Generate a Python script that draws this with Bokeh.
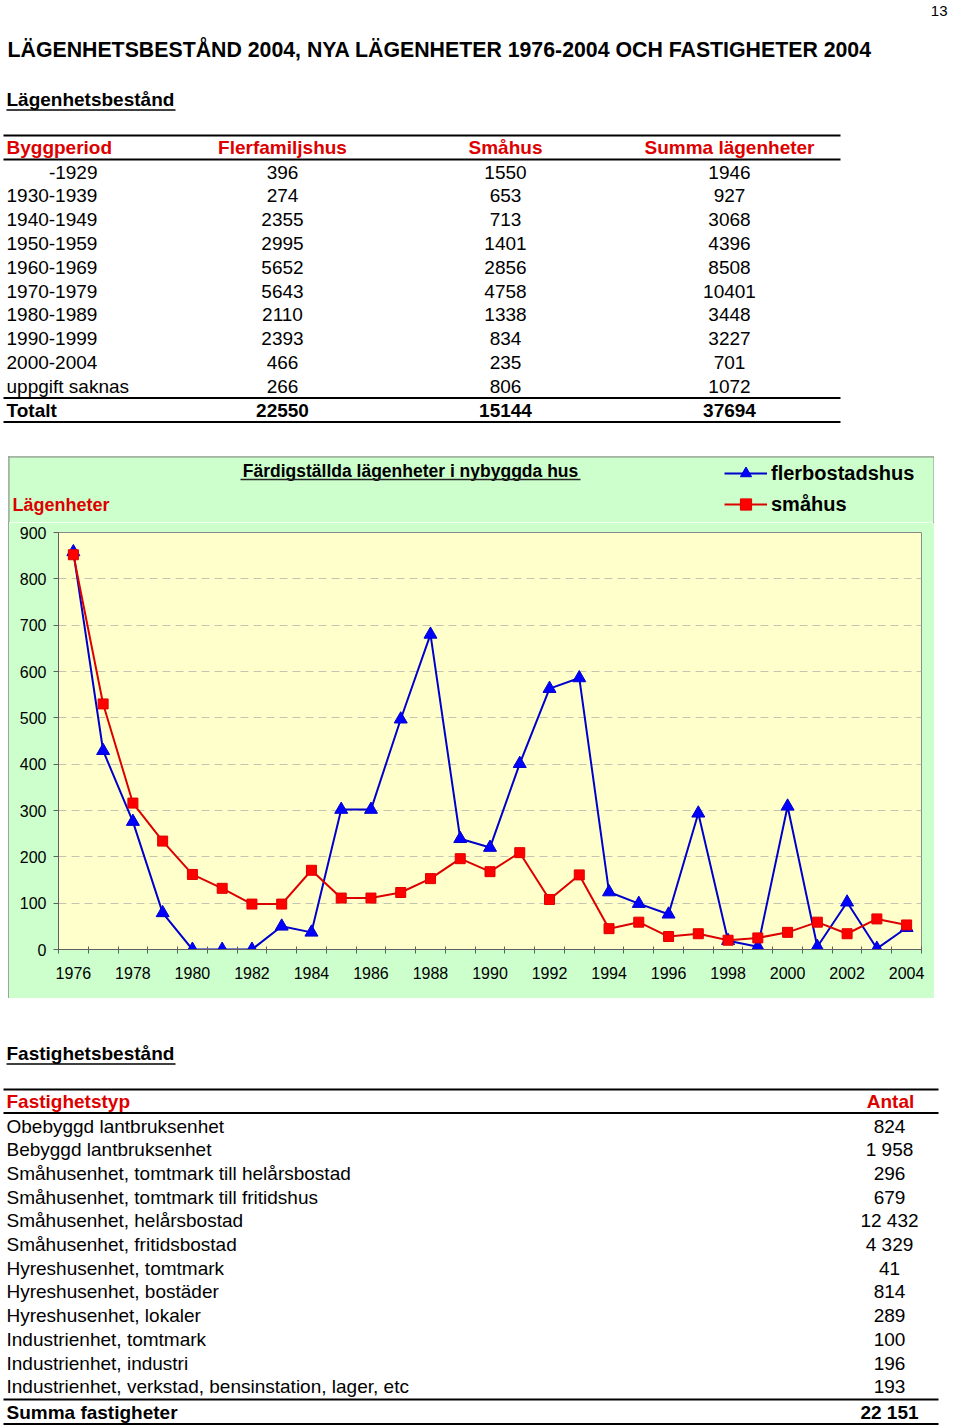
from bokeh.plotting import figure
from bokeh.models import Range1d, FixedTicker, Legend, LegendItem, ColumnDataSource, Spacer
from bokeh.layouts import column, row
from bokeh.embed import file_html
from bokeh.resources import INLINE
from bokeh.core.properties import value

FONT = "Liberation Sans"
RED_TXT = "#DD0000"
BLUE_LINE, BLUE_FILL = "#0000CC", "#0000FF"
RED_LINE, RED_FILL = "#DD0000", "#FF0000"

# ---------------- data ----------------
page_number = "13"
page_title = "LÄGENHETSBESTÅND 2004, NYA LÄGENHETER 1976-2004 OCH FASTIGHETER 2004"
section1 = "Lägenhetsbestånd"
table1_headers = ["Byggperiod", "Flerfamiljshus", "Småhus", "Summa lägenheter"]
periods = ["-1929", "1930-1939", "1940-1949", "1950-1959", "1960-1969",
           "1970-1979", "1980-1989", "1990-1999", "2000-2004", "uppgift saknas"]
flerfamiljshus = [396, 274, 2355, 2995, 5652, 5643, 2110, 2393, 466, 266]
smahus_bestand = [1550, 653, 713, 1401, 2856, 4758, 1338, 834, 235, 806]
summa_lgh = [1946, 927, 3068, 4396, 8508, 10401, 3448, 3227, 701, 1072]
total_label = "Totalt"
totals = [22550, 15144, 37694]

chart_title = "Färdigställda lägenheter i nybyggda hus"
y_label = "Lägenheter"
years = list(range(1976, 2005))
flerbostadshus = [858, 429, 276, 79, 0, 0, 0, 50, 37, 302, 302, 497, 680, 239, 220,
                  401, 563, 586, 124, 99, 76, 294, 19, 6, 309, 6, 102, 2, 47]
smahus_nya = [852, 530, 316, 234, 162, 132, 98, 98, 171, 111, 111, 123, 153, 196, 168,
              209, 108, 161, 45, 59, 28, 34, 20, 25, 37, 59, 34, 66, 53]
series_names = ["flerbostadshus", "småhus"]
y_ticks = [0, 100, 200, 300, 400, 500, 600, 700, 800, 900]
x_label_years = list(range(1976, 2005, 2))

section2 = "Fastighetsbestånd"
table2_headers = ["Fastighetstyp", "Antal"]
fastighetstyper = ["Obebyggd lantbruksenhet", "Bebyggd lantbruksenhet",
                   "Småhusenhet, tomtmark till helårsbostad", "Småhusenhet, tomtmark till fritidshus",
                   "Småhusenhet, helårsbostad", "Småhusenhet, fritidsbostad",
                   "Hyreshusenhet, tomtmark", "Hyreshusenhet, bostäder", "Hyreshusenhet, lokaler",
                   "Industrienhet, tomtmark", "Industrienhet, industri",
                   "Industrienhet, verkstad, bensinstation, lager, etc"]
antal = [824, 1958, 296, 679, 12432, 4329, 41, 814, 289, 100, 196, 193]
summa_label = "Summa fastigheter"
summa_fastigheter = 22151


def fmt(v):
    return f"{v:,}".replace(",", " ")


def page_fig(w, h, x0, y0, fill="white"):
    p = figure(width=w, height=h, x_range=Range1d(x0, x0 + w), y_range=Range1d(y0 + h, y0),
               output_backend="svg", toolbar_location=None, min_border=0,
               x_axis_location=None, y_axis_location=None, frame_align=False)
    p.grid.visible = False
    p.outline_line_color = None
    p.background_fill_color = fill
    p.border_fill_color = fill
    return p


def txt(p, x, y, t, size="19px", style="normal", align="left", color="black", baseline="middle"):
    p.text(x=[x], y=[y], text=[t], text_font=value(FONT), text_font_size=size,
           text_font_style=style, text_align=align, text_baseline=baseline, text_color=color)


def hline(p, x0, x1, y, w=2, color="black"):
    p.segment(x0=[x0], y0=[y], x1=[x1], y1=[y], line_color=color, line_width=w)


# ---------------- top part (page y 0..456) ----------------
top = page_fig(960, 456, 0, 0)
txt(top, 947, 10, page_number, size="15px", align="right")
txt(top, 7, 49, page_title, size="21.3px", style="bold")
txt(top, 6, 99, section1, style="bold")
hline(top, 6, 175, 109.5, 1.5)

hline(top, 3, 840, 135)
col_x = [6, 282, 505, 729]
for i, h in enumerate(table1_headers):
    txt(top, col_x[i], 147, h, style="bold", color=RED_TXT, align="left" if i == 0 else "center")
hline(top, 3, 840, 159)
for r, per in enumerate(periods):
    y = 171.5 + 23.8 * r
    if per.startswith("-"):
        txt(top, 97, y, per, align="right")
    else:
        txt(top, 6, y, per)
    txt(top, col_x[1], y, str(flerfamiljshus[r]), align="center")
    txt(top, col_x[2], y, str(smahus_bestand[r]), align="center")
    txt(top, col_x[3], y, str(summa_lgh[r]), align="center")
hline(top, 3, 840, 397.5)
txt(top, 6, 410, total_label, style="bold")
for i, v in enumerate(totals):
    txt(top, col_x[i + 1], 410, str(v), style="bold", align="center")
hline(top, 3, 840, 421.5)

# ---------------- chart header (page y 456..522, x 8..934) ----------------
GREEN = "#CCFFCC"
hdr = page_fig(926, 66, 8, 456, fill=GREEN)
txt(hdr, 410, 470, chart_title, size="17.5px", style="bold", align="center")
hline(hdr, 240, 580, 479, 1.5, "#222222")
txt(hdr, 12, 504, y_label, size="18px", style="bold", color=RED_TXT)
# box border (top, left, right)
hdr.segment(x0=[8, 8.5, 933.5], y0=[456.5, 456, 456], x1=[934, 8.5, 933.5], y1=[456.5, 522, 522],
            line_color="#8a8a8a", line_width=1)
# legend samples: same series, they fall outside this strip's ranges and are never drawn here
leg_src = ColumnDataSource(dict(year=years, fler=flerbostadshus, sma=smahus_nya))
lb = hdr.line("year", "fler", source=leg_src, line_color=BLUE_LINE, line_width=2)
mb = hdr.scatter("year", "fler", source=leg_src, marker="triangle", size=12,
                 fill_color=BLUE_FILL, line_color=BLUE_LINE)
lr = hdr.line("year", "sma", source=leg_src, line_color=RED_LINE, line_width=2)
mr = hdr.scatter("year", "sma", source=leg_src, marker="square", size=9,
                 fill_color=RED_FILL, line_color=RED_LINE)
legend = Legend(items=[LegendItem(label=series_names[0], renderers=[lb, mb]),
                       LegendItem(label=series_names[1], renderers=[lr, mr])],
                location=(716, 4), orientation="vertical",
                background_fill_alpha=0, border_line_color=None, padding=0, margin=0,
                glyph_width=43, glyph_height=28, label_height=20, label_standoff=4, spacing=3,
                label_text_font=FONT, label_text_font_size="20px", label_text_font_style="bold",
                label_text_color="black")
hdr.add_layout(legend)

# ---------------- chart (page y 522..998, x 8..934) ----------------
c = figure(width=926, height=476, x_range=Range1d(1975.5, 2004.5), y_range=Range1d(0, 900),
           output_backend="svg", toolbar_location=None, frame_align=False,
           min_border_left=50, min_border_right=13, min_border_top=10, min_border_bottom=49)
c.background_fill_color = "#FFFFCC"
c.border_fill_color = GREEN
c.outline_line_color = "#8a8a8a"
c.xgrid.visible = False
c.ygrid.grid_line_color = "#c4c4b0"
c.ygrid.grid_line_dash = "8 5"
c.ygrid.grid_line_width = 1

c.yaxis.ticker = FixedTicker(ticks=y_ticks)
c.yaxis.major_tick_out = 5
c.yaxis.major_tick_in = 0
c.yaxis.minor_tick_out = 0
c.yaxis.minor_tick_in = 0
c.yaxis.major_label_standoff = 7
c.yaxis.axis_line_color = "#606060"
c.yaxis.major_tick_line_color = "#606060"

c.xaxis.ticker = FixedTicker(ticks=x_label_years, minor_ticks=[y - 0.5 for y in years] + [2004.5])
c.xaxis.major_tick_out = 0
c.xaxis.major_tick_in = 0
c.xaxis.minor_tick_out = 4
c.xaxis.minor_tick_in = 3
c.xaxis.major_label_standoff = 13
c.xaxis.axis_line_color = "#606060"
c.xaxis.minor_tick_line_color = "#606060"

for ax in (c.xaxis, c.yaxis):
    ax.major_label_text_font = FONT
    ax.major_label_text_font_size = "16px"
    ax.major_label_text_color = "black"

src = ColumnDataSource(dict(year=years, fler=flerbostadshus, sma=smahus_nya))
c.line("year", "fler", source=src, line_color=BLUE_LINE, line_width=2)
c.scatter("year", "fler", source=src, marker="triangle", size=13,
          fill_color=BLUE_FILL, line_color=BLUE_LINE)
c.line("year", "sma", source=src, line_color=RED_LINE, line_width=2)
c.scatter("year", "sma", source=src, marker="square", size=10,
          fill_color=RED_FILL, line_color=RED_LINE)

chart_box = column(hdr, c, spacing=0,
                   styles={"outline": "1px solid #8a8a8a", "outline-offset": "-1px"})
middle = row(Spacer(width=8, height=542), chart_box, spacing=0)

# ---------------- bottom part (page y 998..1426) ----------------
bot = page_fig(960, 428, 0, 998)
txt(bot, 6, 1053, section2, style="bold")
hline(bot, 6, 175, 1063.5, 1.5)
hline(bot, 3, 938, 1089)
txt(bot, 6, 1101, table2_headers[0], style="bold", color=RED_TXT)
txt(bot, 890, 1101, table2_headers[1], style="bold", color=RED_TXT, align="center")
hline(bot, 3, 938, 1112.5)
for r, t in enumerate(fastighetstyper):
    y = 1125.5 + 23.7 * r
    txt(bot, 6, y, t)
    txt(bot, 889, y, fmt(antal[r]), align="center")
hline(bot, 3, 938, 1399)
txt(bot, 6, 1411.5, summa_label, style="bold")
txt(bot, 889, 1411.5, fmt(summa_fastigheter), style="bold", align="center")
hline(bot, 3, 938, 1423.5)

layout = column(top, middle, bot, spacing=0)
open("out.html", "w").write(file_html(layout, INLINE))
